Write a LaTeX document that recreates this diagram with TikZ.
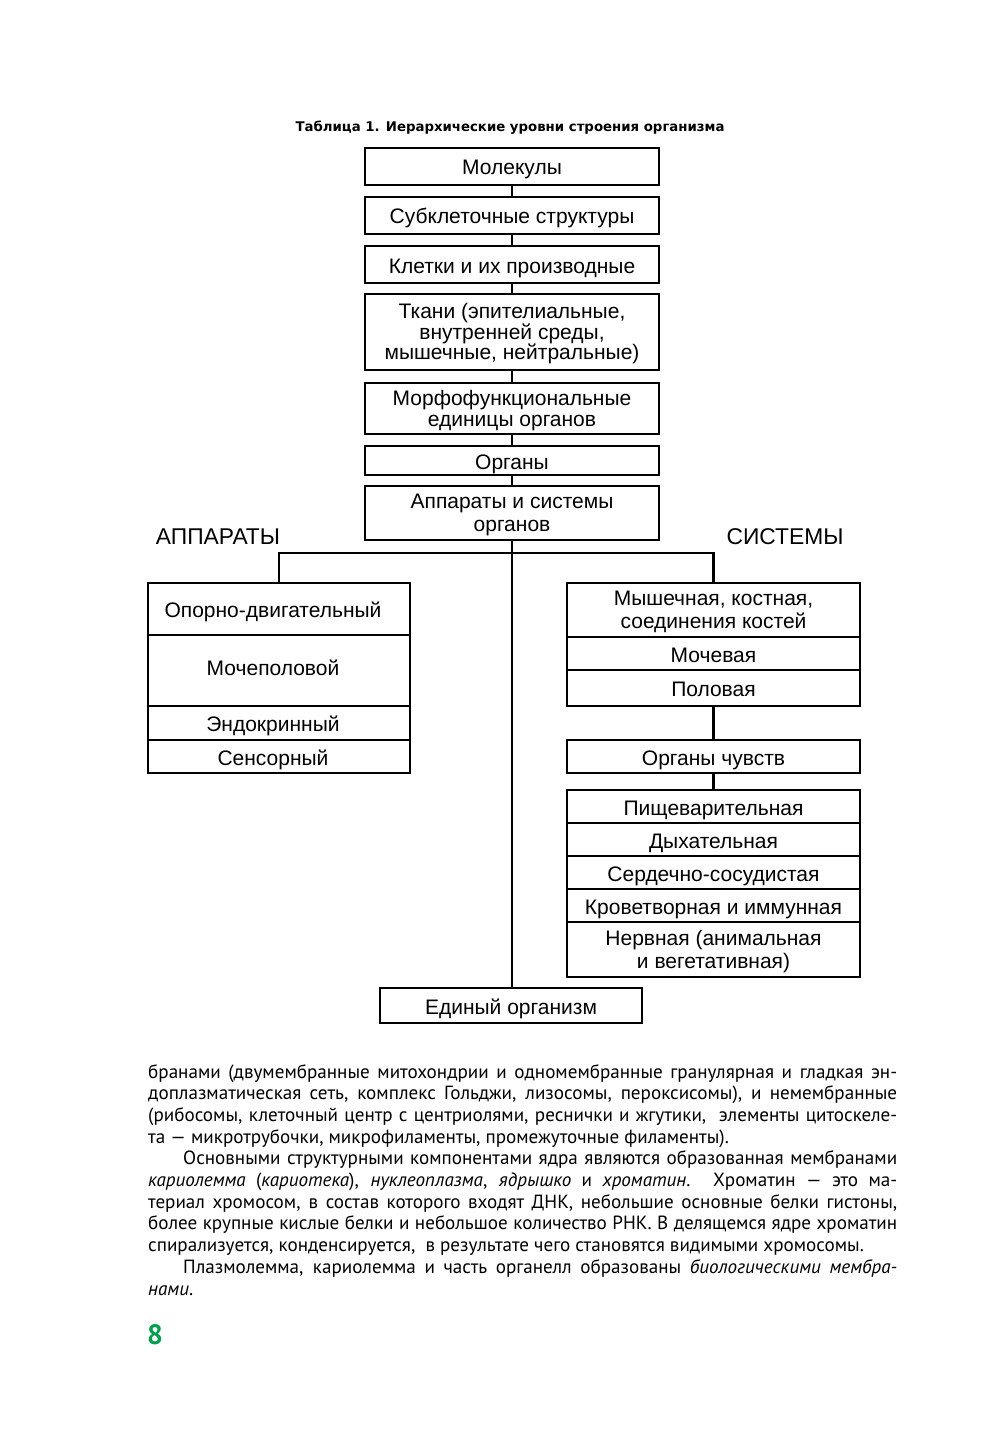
\documentclass[tikz,border=0pt]{standalone}
\usepackage{fontspec}
\setmainfont{Liberation Sans}
\newfontfamily\bodyfont{PT Sans}
\newfontfamily\titlefont{DejaVu Sans}
\definecolor{pagegreen}{RGB}{0,160,80}
\newcommand\diagfont{\fontsize{21}{20.5}\selectfont}
\newcommand\jline[1]{\makebox[749pt][s]{#1}}
\newcommand\jlinei[1]{\makebox[714pt][s]{#1}}
% one-line box: name, x, y, w, h, text
\newcommand\olbox[6]{%
  \node[box, minimum width=#4pt, minimum height=#5pt] (#1) at (#2,#3) {};
  \node[txt1] (#1-t) at ([yshift=-3.25pt]#1.center) {#6};}
% multi-line box: name, x, y, w, h, text
\newcommand\mlbox[6]{%
  \node[box, minimum width=#4pt, minimum height=#5pt] (#1) at (#2,#3) {};
  \node[txtm] (#1-t) at ([yshift=-2pt]#1.center) {#6};}
\begin{document}
\begin{tikzpicture}[x=1pt,y=-1pt,
  box/.style={draw, line width=2.9pt, inner sep=0pt, outer sep=0pt},
  txt1/.style={inner sep=0pt, text height=15pt, text depth=4.5pt, font=\diagfont},
  txtm/.style={inner sep=0pt, align=center, font=\diagfont},
  conn/.style={line width=2.9pt},
  lbl/.style={inner sep=0pt, font=\fontsize{22.8}{24}\selectfont},
  body/.style={anchor=base west, inner sep=0pt, font=\bodyfont\fontsize{19.1}{20}\selectfont}
  ]
\fill[white] (0,0) rectangle (987,1447);
\useasboundingbox (0,0) rectangle (987,1447);

\node[inner sep=0pt, font=\titlefont\bfseries\fontsize{13.3}{15}\selectfont] (title) at (510,128) {Таблица 1. Иерархические уровни строения организма};

% main chain
\olbox{mol}{512}{166.5}{294}{37}{Молекулы}
\olbox{sub}{512}{215.5}{294}{37}{Субклеточные структуры}
\olbox{klet}{512}{264.5}{294}{37}{Клетки и их производные}
\mlbox{tk}{512}{332}{294}{76}{Ткани (эпителиальные,\\внутренней среды,\\мышечные, нейтральные)}
\mlbox{morf}{512}{408.5}{294}{51}{Морфофункциональные\\единицы органов}
\olbox{org}{512}{460.5}{294}{29}{Органы}
\mlbox{app}{512}{513}{294}{54}{Аппараты и системы\\[2pt]органов}

\node[lbl] (lapp) at (218,537) {АППАРАТЫ};
\node[lbl] (lsys) at (785,537) {СИСТЕМЫ};

% left block
\node[box, minimum width=262pt, minimum height=52pt] (opora) at (279,609) {};
\node[box, minimum width=262pt, minimum height=71pt] (mochep) at (279,670.5) {};
\node[box, minimum width=262pt, minimum height=34pt] (endo) at (279,723) {};
\node[box, minimum width=262pt, minimum height=33pt] (sens) at (279,756.5) {};
\node[txt1] (opora-t) at ([xshift=-6pt,yshift=-3.25pt]opora.center) {Опорно-двигательный};
\node[txt1] (mochep-t) at ([xshift=-6pt]mochep.center) {Мочеполовой};
\node[txt1] (endo-t) at ([xshift=-6pt,yshift=-3.25pt]endo.center) {Эндокринный};
\node[txt1] (sens-t) at ([xshift=-6pt,yshift=-3.25pt]sens.center) {Сенсорный};

% right block
\mlbox{mysh}{713.5}{610}{293}{54}{Мышечная, костная,\\[2pt]соединения костей}
\olbox{moch}{713.5}{653.5}{293}{33}{Мочевая}
\olbox{pol}{713.5}{688}{293}{36}{Половая}
\olbox{chuv}{713.5}{756.5}{293}{33}{Органы чувств}
\olbox{pisch}{713.5}{806.5}{293}{33}{Пищеварительная}
\olbox{dyh}{713.5}{839.5}{293}{33}{Дыхательная}
\olbox{serd}{713.5}{872.5}{293}{33}{Сердечно-сосудистая}
\olbox{krov}{713.5}{905.5}{293}{33}{Кроветворная и иммунная}
\mlbox{nerv}{713.5}{949.5}{293}{55}{Нервная (анимальная\\[2pt]и вегетативная)}

\olbox{edin}{511}{1005.5}{262}{35}{Единый организм}

% connectors
\draw[conn] (mol.south) -- (sub.north);
\draw[conn] (sub.south) -- (klet.north);
\draw[conn] (klet.south) -- (tk.north);
\draw[conn] (tk.south) -- (morf.north);
\draw[conn] (morf.south) -- (org.north);
\draw[conn] (org.south) -- (app.north);
\draw[conn] (app.south) -- (app.south |- edin.north);
\coordinate (hb) at (512,553);
\draw[conn] (opora.north) |- (hb) -| (mysh.north);
\draw[conn] (pol.south) -- (chuv.north);
\draw[conn] (chuv.south) -- (pisch.north);

% body text
\node[body] (t1) at (148,1078) {\jline{бранами (двумембранные митохондрии и одномембранные гранулярная и гладкая эн-}};
\node[body] (t2) at (148,1099.7) {\jline{доплазматическая сеть, комплекс Гольджи, лизосомы, пероксисомы), и немембранные}};
\node[body] (t3) at (148,1121.4) {\jline{(рибосомы, клеточный центр с центриолями, реснички и жгутики, \ элементы цитоскеле-}};
\node[body] (t4) at (148,1143.1) {та — микротрубочки, микрофиламенты, промежуточные филаменты).};
\node[body] (t5) at (183,1164.8) {\jlinei{Основными структурными компонентами ядра являются образованная мембранами}};
\node[body] (t6) at (148,1186.5) {\jline{\textit{кариолемма} (\textit{кариотека}), \textit{нуклеоплазма}, \textit{ядрышко} и \textit{хроматин}. Хроматин — это ма-}};
\node[body] (t7) at (148,1208.2) {\jline{териал хромосом, в состав которого входят ДНК, небольшие основные белки гистоны,}};
\node[body] (t8) at (148,1229.9) {\jline{более крупные кислые белки и небольшое количество РНК. В делящемся ядре хроматин}};
\node[body] (t9) at (148,1251.6) {спирализуется, конденсируется, \ в результате чего становятся видимыми хромосомы.};
\node[body] (t10) at (183,1273.3) {\jlinei{Плазмолемма, кариолемма и часть органелл образованы \textit{биологическими мембра-}}};
\node[body] (t11) at (148,1295) {\textit{нами}.};

\node[anchor=base west, inner sep=0pt, text=pagegreen, font=\bodyfont\bfseries\fontsize{28}{30}\selectfont] (pnum) at (147,1344) {8};
\end{tikzpicture}
\end{document}
